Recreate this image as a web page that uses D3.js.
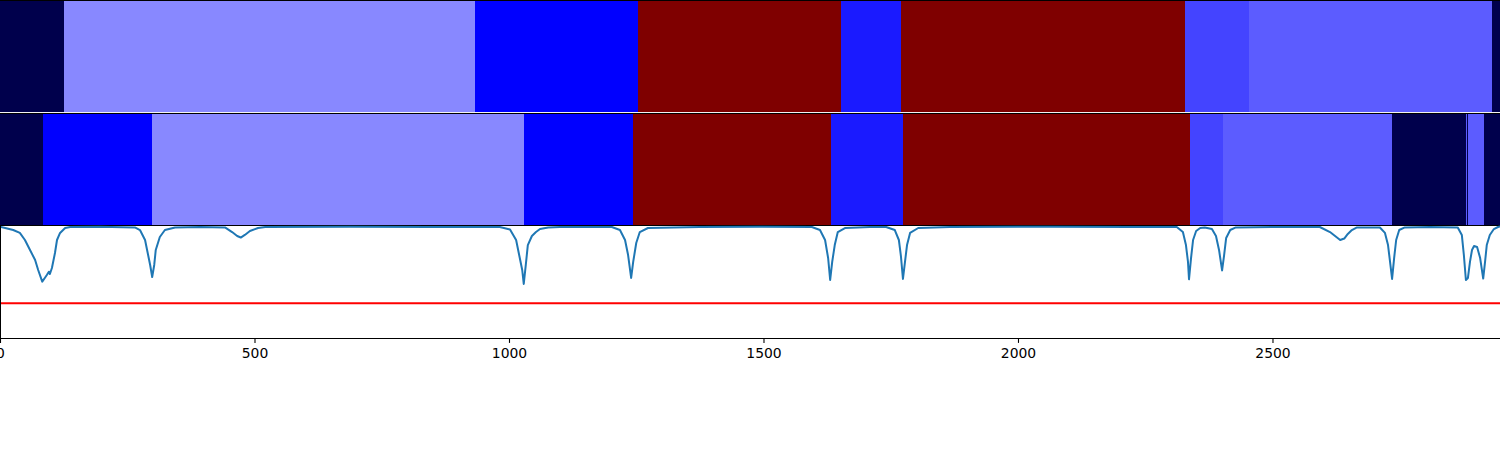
<!DOCTYPE html>
<html>
<head>
<meta charset="utf-8">
<script src="https://cdn.jsdelivr.net/npm/d3@7"></script>
<style>
html,body{margin:0;padding:0;background:#fff;}
svg{display:block;}
</style>
</head>
<body>
<svg id="chart" width="1500" height="450"></svg>
<script>
// ---- data ----
const xMax = 2947;
const xTicks = [0, 500, 1000, 1500, 2000, 2500];
const labelKeys = [0, 1, 2, 3, 4, 5, 6];
const labelColors = ["#00004c", "#0000ff", "#1a1aff", "#4444ff", "#5c5cff", "#8888ff", "#7f0000"];

const row1Bounds = [0, 126, 933, 1253, 1652, 1770, 2328, 2454, 2931, 2947];
const row1Labels = [0, 5, 1, 6, 2, 6, 3, 4, 0];
const row2Bounds = [0, 84, 299, 1029, 1244, 1633, 1774, 2338, 2403, 2735, 2880, 2881.5, 2884, 2915, 2947];
const row2Labels = [0, 1, 5, 1, 6, 2, 6, 3, 4, 0, 4, 0, 4, 0];

const lineX = [0,26,39,49,59,69,75,83,88,92,96,98,102,108,112,118,128,138,196,265,275,285,291,295,299,303,306,314,324,344,393,442,456,466,473,481,491,507,521,688,845,982,1002,1014,1020,1026,1029,1033,1037,1045,1053,1061,1077,1100,1202,1218,1228,1234,1240,1244,1250,1257,1273,1375,1493,1595,1611,1621,1627,1631,1635,1640,1646,1660,1709,1741,1758,1766,1770,1774,1778,1782,1788,1804,1866,2063,2220,2312,2324,2330,2334,2336,2340,2344,2350,2358,2367,2381,2389,2395,2401,2405,2409,2417,2428,2515,2593,2613,2623,2633,2641,2648,2656,2666,2711,2721,2727,2731,2735,2739,2743,2749,2760,2809,2864,2872,2876,2880,2884,2888,2892,2896,2902,2908,2914,2918,2921,2927,2935,2943,2947];
const lineY = [0.994,0.964,0.938,0.875,0.786,0.696,0.607,0.503,0.536,0.563,0.592,0.571,0.625,0.759,0.875,0.938,0.982,0.991,0.993,0.987,0.964,0.875,0.741,0.652,0.545,0.652,0.786,0.902,0.964,0.987,0.991,0.987,0.946,0.911,0.897,0.920,0.955,0.982,0.991,0.993,0.991,0.991,0.969,0.875,0.741,0.607,0.482,0.652,0.830,0.911,0.946,0.973,0.987,0.991,0.991,0.964,0.875,0.741,0.536,0.679,0.848,0.946,0.982,0.991,0.993,0.991,0.964,0.875,0.714,0.518,0.679,0.830,0.946,0.982,0.991,0.991,0.964,0.875,0.732,0.527,0.679,0.830,0.938,0.982,0.991,0.993,0.991,0.991,0.946,0.830,0.679,0.524,0.714,0.875,0.955,0.982,0.987,0.973,0.911,0.786,0.603,0.741,0.893,0.964,0.987,0.991,0.991,0.946,0.911,0.875,0.888,0.929,0.964,0.987,0.987,0.938,0.830,0.679,0.527,0.714,0.875,0.964,0.987,0.991,0.987,0.920,0.741,0.518,0.536,0.679,0.786,0.821,0.813,0.714,0.531,0.696,0.830,0.920,0.973,0.991,0.996];
const threshold = 0.31;

// ---- drawing ----
const svg = d3.select("#chart");
const x = d3.scaleLinear().domain([0, xMax]).range([0, 1500]);
const color = d3.scaleOrdinal().domain(labelKeys).range(labelColors);

const rows = [
  {bounds: row1Bounds, labels: row1Labels, y0: 0, y1: 112},
  {bounds: row2Bounds, labels: row2Labels, y0: 113, y1: 225.5}
];
rows.forEach(r => {
  const segs = r.labels.map((l, i) => ({a: r.bounds[i], b: r.bounds[i + 1], l}));
  svg.append("g").selectAll("rect").data(segs).join("rect")
    .attr("x", d => x(d.a))
    .attr("width", d => x(d.b) - x(d.a))
    .attr("y", r.y0)
    .attr("height", r.y1 - r.y0)
    .attr("fill", d => color(d.l))
    .attr("shape-rendering", "crispEdges");
});

// separators / spines
svg.append("line").attr("x1", 0).attr("x2", 1500).attr("y1", 0.5).attr("y2", 0.5).attr("stroke", "#000").attr("stroke-width", 1);
svg.append("line").attr("x1", 0).attr("x2", 1500).attr("y1", 112.5).attr("y2", 112.5).attr("stroke", "#f2f2f2").attr("stroke-width", 1);
svg.append("line").attr("x1", 0).attr("x2", 1500).attr("y1", 113.5).attr("y2", 113.5).attr("stroke", "#000").attr("stroke-width", 1);
svg.append("line").attr("x1", 0).attr("x2", 1500).attr("y1", 225.5).attr("y2", 225.5).attr("stroke", "#000").attr("stroke-width", 1);

// line panel
const y = d3.scaleLinear().domain([0, 1]).range([338, 226]);
const pts = lineX.map((v, i) => [v, lineY[i]]);
const g3 = svg.append("g");
g3.append("line")
  .attr("x1", x(0)).attr("x2", x(xMax))
  .attr("y1", y(threshold)).attr("y2", y(threshold))
  .attr("stroke", "#ff0000").attr("stroke-width", 2);
g3.append("path")
  .datum(pts)
  .attr("fill", "none")
  .attr("stroke", "#1f77b4")
  .attr("stroke-width", 2)
  .attr("stroke-linejoin", "round")
  .attr("stroke-linecap", "round")
  .attr("d", d3.line().x(d => x(d[0])).y(d => y(d[1])));

// left spine of line panel
svg.append("line").attr("x1", 0.5).attr("x2", 0.5).attr("y1", 225).attr("y2", 338.5).attr("stroke", "#000").attr("stroke-width", 1);

// x axis
const axis = d3.axisBottom(x).tickValues(xTicks).tickFormat(d3.format("d")).tickSize(4.9).tickPadding(4.9).tickSizeOuter(0);
const ax = svg.append("g").attr("transform", "translate(0,338)").call(axis);
ax.select(".domain").attr("stroke", "#000").attr("stroke-width", 1.1);
ax.selectAll(".tick line").attr("stroke", "#000").attr("stroke-width", 1.1);
ax.selectAll(".tick text").attr("fill", "#000").attr("font-family", "DejaVu Sans").attr("font-size", "13.9px");
</script>
</body>
</html>
